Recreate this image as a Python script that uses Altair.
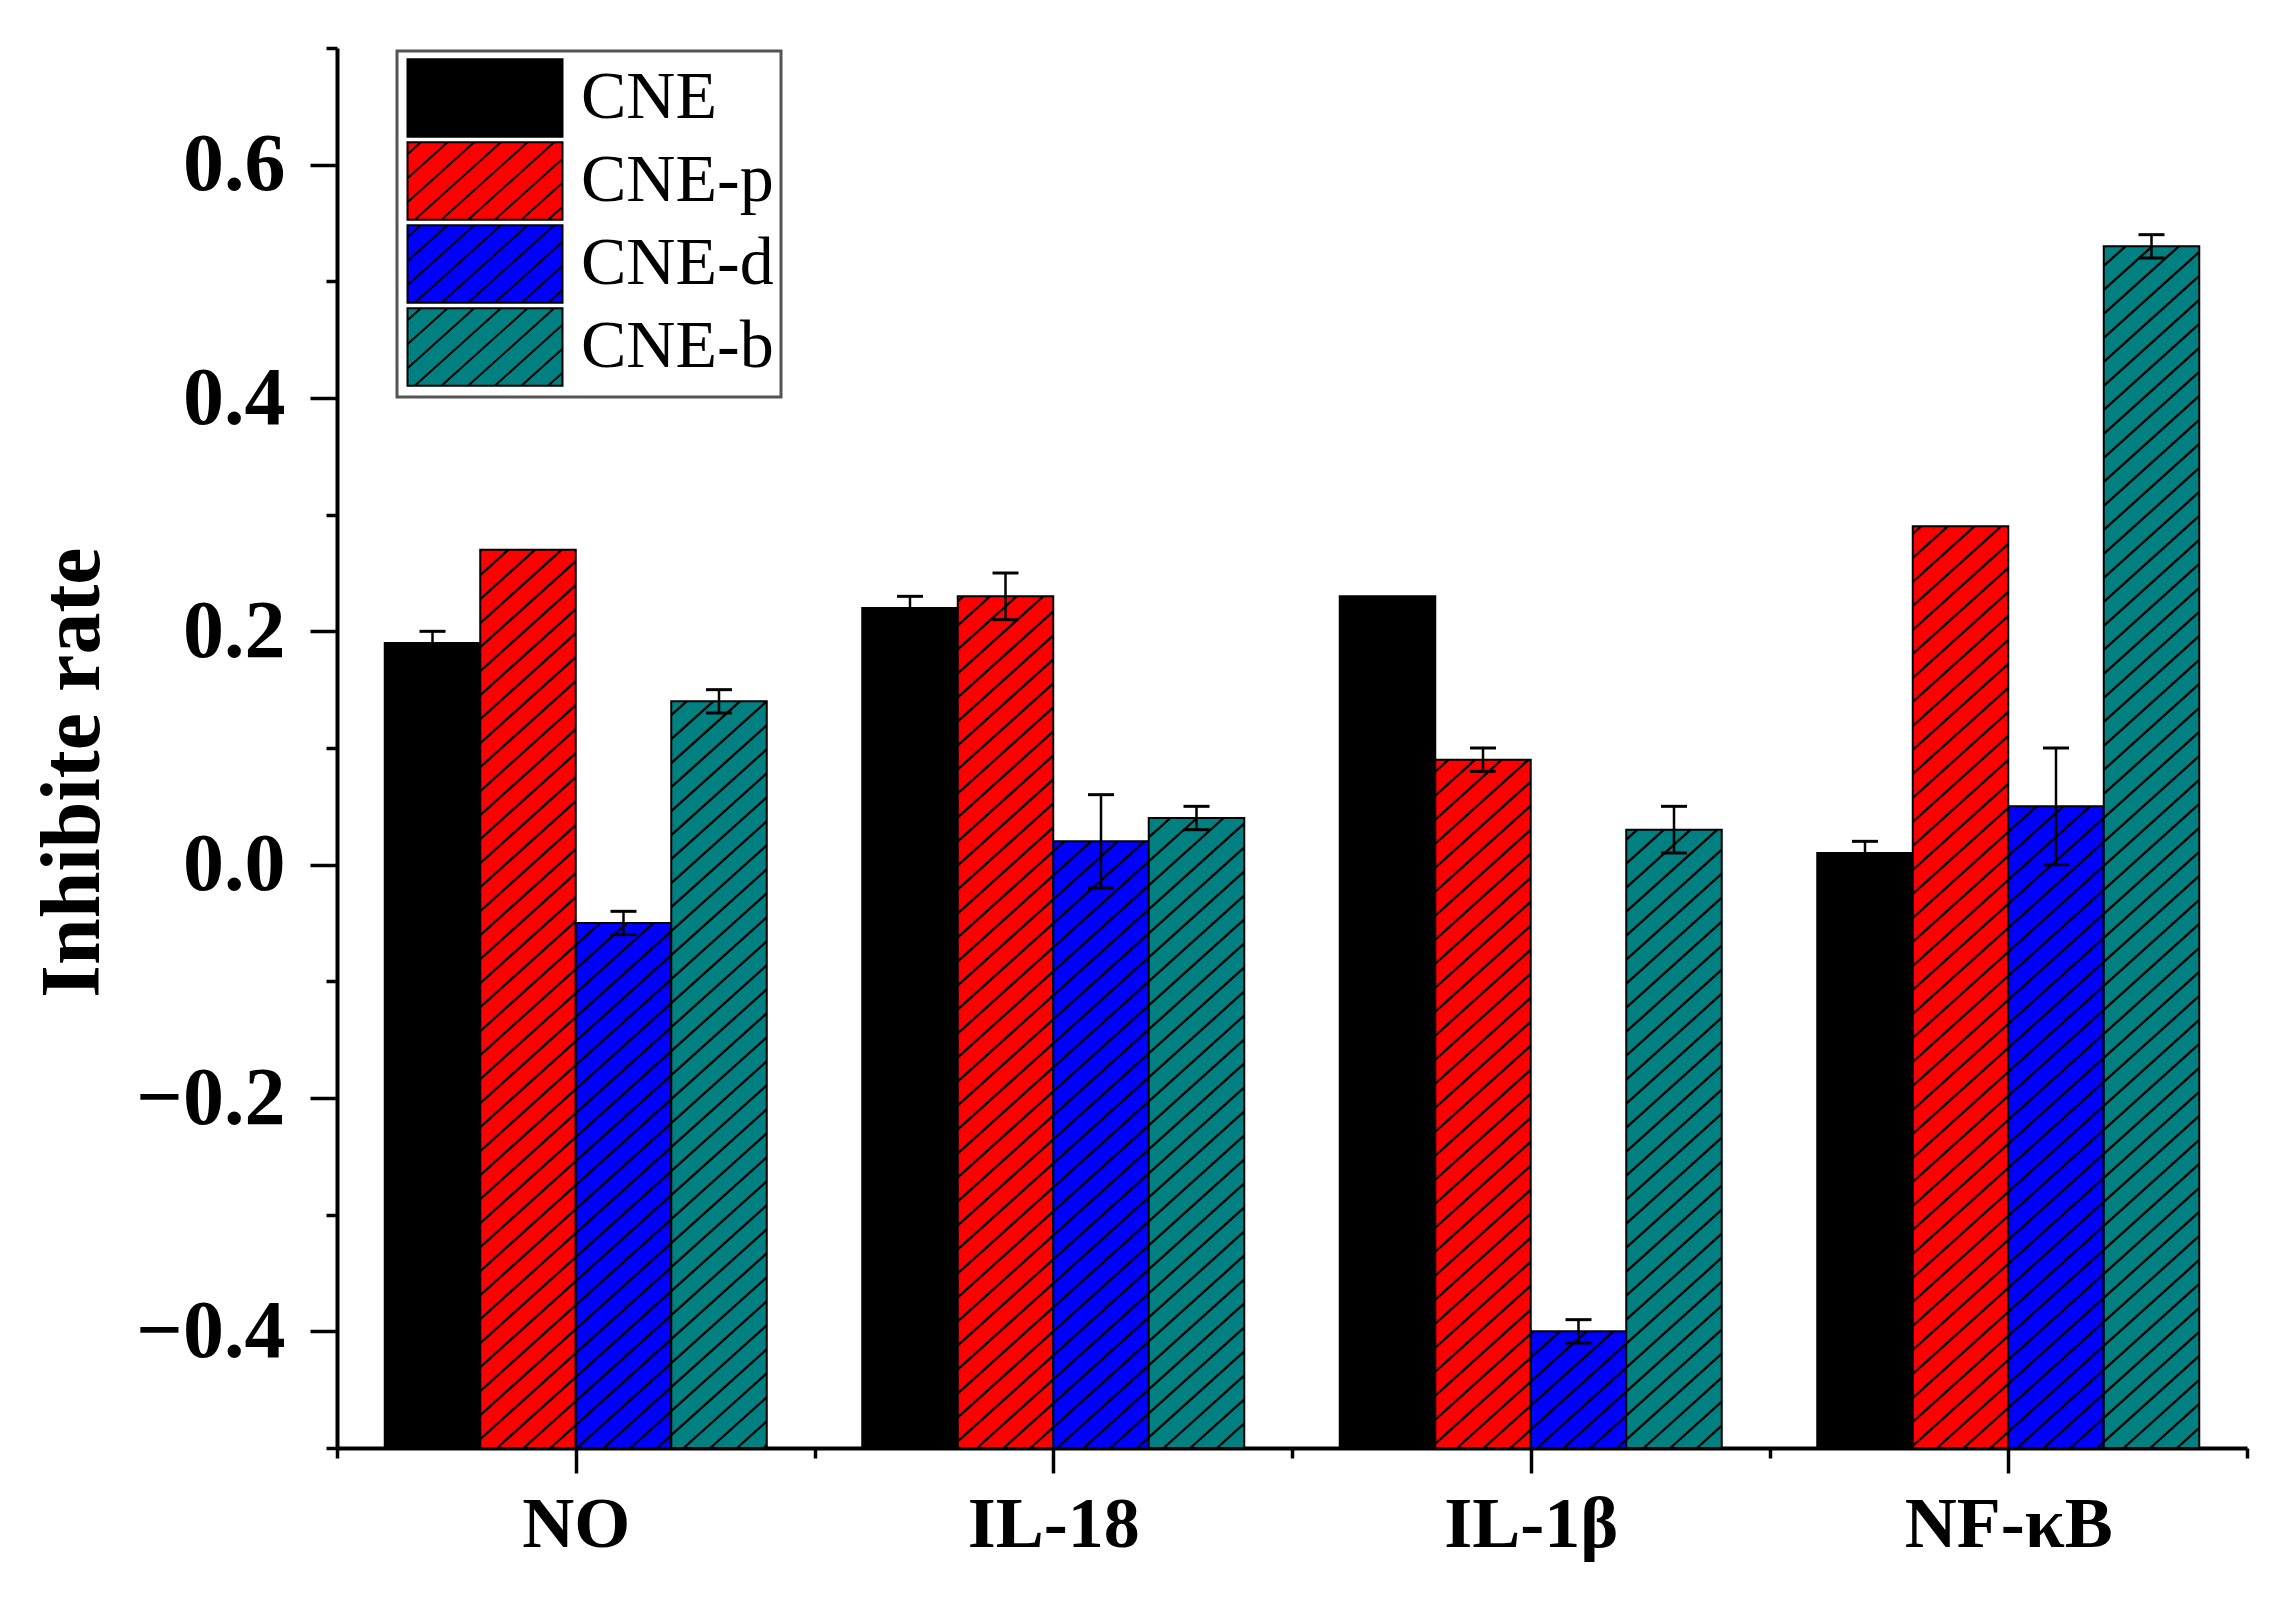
import math
import altair as alt
import numpy as np
import pandas as pd

# ---------------- data ----------------
categories = ["NO", "IL-18", "IL-1β", "NF-κB"]
series = ["CNE", "CNE-p", "CNE-d", "CNE-b"]
colors = ["#000000", "#ff0000", "#0000ff", "#008080"]
hatched = [False, True, True, True]

cne_vals = [0.19, 0.22, 0.23, 0.01]
cne_p_vals = [0.27, 0.23, 0.09, 0.29]
cne_d_vals = [-0.05, 0.02, -0.40, 0.05]
cne_b_vals = [0.14, 0.04, 0.03, 0.53]

cne_err = [0.01, 0.01, 0.0, 0.01]
cne_p_err = [0.0, 0.02, 0.01, 0.0]
cne_d_err = [0.01, 0.04, 0.01, 0.05]
cne_b_err = [0.01, 0.01, 0.02, 0.01]

y_tick_values = [-0.5, -0.4, -0.3, -0.2, -0.1, 0.0, 0.1, 0.2, 0.3, 0.4, 0.5, 0.6, 0.7]
y_title = "Inhibite rate"

values = [cne_vals, cne_p_vals, cne_d_vals, cne_b_vals]
errors = [cne_err, cne_p_err, cne_d_err, cne_b_err]

# ---------------- layout constants ----------------
W, H = 1910, 1400
XDOM = [0, len(categories)]
YDOM = [-0.5, 0.7]
BASE = YDOM[0]     # bars rise from the bottom of the axis
OUTER = 0.1
BARW = (1 - 2 * OUTER) / len(series)
FONT = "Liberation Serif"
SLOPE = 0.9       # hatch slope in pixels (rise / run)
SPACING = 24.0    # vertical pixel spacing of hatch lines

# ---------------- bars ----------------
rows = []
for i, cat in enumerate(categories):
    for j, s in enumerate(series):
        x0 = i + OUTER + BARW * j
        rows.append(dict(category=cat, series=s, x=x0, x2=x0 + BARW,
                         xc=x0 + BARW / 2, y=values[j][i], y2=BASE,
                         err=errors[j][i], hatch=hatched[j]))
bars_df = pd.DataFrame(rows)


def to_px_x(x):
    return (x - XDOM[0]) / (XDOM[1] - XDOM[0]) * W


def to_px_y(y):
    return (y - YDOM[0]) / (YDOM[1] - YDOM[0]) * H


def from_px_x(p):
    return XDOM[0] + p / W * (XDOM[1] - XDOM[0])


def from_px_y(p):
    return YDOM[0] + p / H * (YDOM[1] - YDOM[0])


hatch_rows = []
for r in rows:
    if not r["hatch"]:
        continue
    px0, px1 = to_px_x(r["x"]), to_px_x(r["x2"])
    lo, hi = sorted([r["y"], r["y2"]])
    py0, py1 = to_px_y(lo), to_px_y(hi)
    kmin = math.ceil((py0 - SLOPE * px1) / SPACING)
    kmax = math.floor((py1 - SLOPE * px0) / SPACING)
    for k in range(kmin, kmax + 1):
        c = k * SPACING
        xa = max(px0, (py0 - c) / SLOPE)
        xb = min(px1, (py1 - c) / SLOPE)
        if xb - xa < 0.8:
            continue
        hatch_rows.append(dict(x=from_px_x(xa), x2=from_px_x(xb),
                               y=from_px_y(SLOPE * xa + c),
                               y2=from_px_y(SLOPE * xb + c)))
hatch_df = pd.DataFrame(hatch_rows)

# ---------------- error bars ----------------
err_df = bars_df[bars_df["err"] > 0].copy()
err_df["lo"] = err_df["y"] - err_df["err"]
err_df["hi"] = err_df["y"] + err_df["err"]
rule_df = pd.DataFrame(dict(x=err_df["xc"], y=err_df["lo"], y2=err_df["hi"]))
caps_df = pd.concat([
    pd.DataFrame(dict(x=err_df["xc"], y=err_df["lo"])),
    pd.DataFrame(dict(x=err_df["xc"], y=err_df["hi"])),
])


# ---------------- legend swatch paths ----------------
def swatch_path(hatch):
    p = "M-2,-1L2,-1L2,1L-2,1Z"
    if hatch:
        unit = 38.75
        d = SPACING / unit
        m = SLOPE
        c = -1 - 2 * m + d / 2
        while c < 1 + 2 * m:
            xa = max(-2.0, (c - 1) / m)
            xb = min(2.0, (c + 1) / m)
            if xb - xa > 0.02:
                p += "M%.3f,%.3fL%.3f,%.3f" % (xa, c - m * xa, xb, c - m * xb)
            c += d
    return p


paths = [swatch_path(h) for h in hatched]

# ---------------- axes ----------------
label_expr = " : ".join(
    "abs(datum.value - %.1f) < 0.01 ? '%s'" % (i + 0.5, c) for i, c in enumerate(categories)
) + " : ''"

x_axis = alt.Axis(
    values=[k / 2 for k in range(0, 2 * len(categories) + 1)],
    labelExpr=label_expr,
    title=None, grid=False, labelAngle=0, labelOverlap=False, labelFlush=False,
    labelFont=FONT, labelFontSize=72, labelFontWeight="bold", labelColor="black",
    labelPadding=16, labelLimit=1000,
    tickSize={"condition": {"test": "abs(datum.value - round(datum.value)) < 0.01", "value": 10}, "value": 25},
    tickWidth=3.5, tickColor="black", domainWidth=4, domainColor="black",
)

y_axis = alt.Axis(
    values=y_tick_values, format=".1f",
    labelExpr="abs(round(datum.value * 10)) % 2 == 0 ? datum.label : ''",
    title=y_title, titleFont=FONT, titleFontSize=84, titleFontWeight="bold",
    titleColor="black", titleAngle=-90, titleBaseline="alphabetic",
    titleX=-239, titleY=724,
    grid=False, labelOverlap=False, labelFlush=False,
    labelFont=FONT, labelFontSize=82, labelFontWeight="bold", labelColor="black",
    labelPadding=25, labelLimit=1000,
    tickSize={"condition": {"test": "abs(round(datum.value * 10)) % 2 == 1", "value": 11}, "value": 27},
    tickWidth=3.5, tickColor="black", domainWidth=4, domainColor="black",
)

fill_scale = alt.Scale(domain=series, range=colors)
shape_scale = alt.Scale(domain=series, range=paths)
legend = alt.Legend(
    title=None, orient="none", legendX=60, legendY=3,
    symbolSize=6006, symbolStrokeColor="black", symbolStrokeWidth=2,
    symbolOffset=41,
    labelFont=FONT, labelFontSize=68, labelColor="black", labelLimit=1000,
    labelOffset=56, rowPadding=-4, padding=7,
    strokeColor="#555555", fillColor="white",
)

xs = alt.Scale(domain=XDOM, nice=False, zero=False)
ys = alt.Scale(domain=YDOM, nice=False, zero=False)

bars = alt.Chart(bars_df).mark_rect(stroke="black", strokeWidth=2).encode(
    x=alt.X("x:Q", scale=xs, axis=x_axis),
    x2="x2:Q",
    y=alt.Y("y:Q", scale=ys, axis=y_axis),
    y2="y2:Q",
    fill=alt.Fill("series:N", scale=fill_scale, legend=legend),
)

hatch = alt.Chart(hatch_df).mark_rule(color="black", strokeWidth=2.3).encode(
    x="x:Q", x2="x2:Q", y="y:Q", y2="y2:Q"
)

err_rules = alt.Chart(rule_df).mark_rule(color="black", strokeWidth=2.5).encode(
    x="x:Q", y="y:Q", y2="y2:Q"
)

caps = alt.Chart(caps_df).mark_tick(orient="horizontal", size=26, thickness=3,
                                    color="black", opacity=1).encode(
    x="x:Q", y="y:Q"
)

legend_pts = alt.Chart(bars_df).transform_filter("datum.y > 100").mark_point(
    filled=True, stroke="black", strokeWidth=2, opacity=1
).encode(
    x="x:Q", y="y:Q",
    fill=alt.Fill("series:N", scale=fill_scale, legend=legend),
    shape=alt.Shape("series:N", scale=shape_scale, legend=legend),
)

chart = alt.layer(bars, hatch, err_rules, caps, legend_pts).properties(
    width=W, height=H,
    padding={"left": 329, "top": 40, "right": 39, "bottom": 143},
    autosize=alt.AutoSizeParams(type="none"),
    background="white",
).configure_view(stroke=None).configure_legend(strokeWidth=3)

chart.save("out.html", embed_options={"renderer": "svg", "actions": False})
